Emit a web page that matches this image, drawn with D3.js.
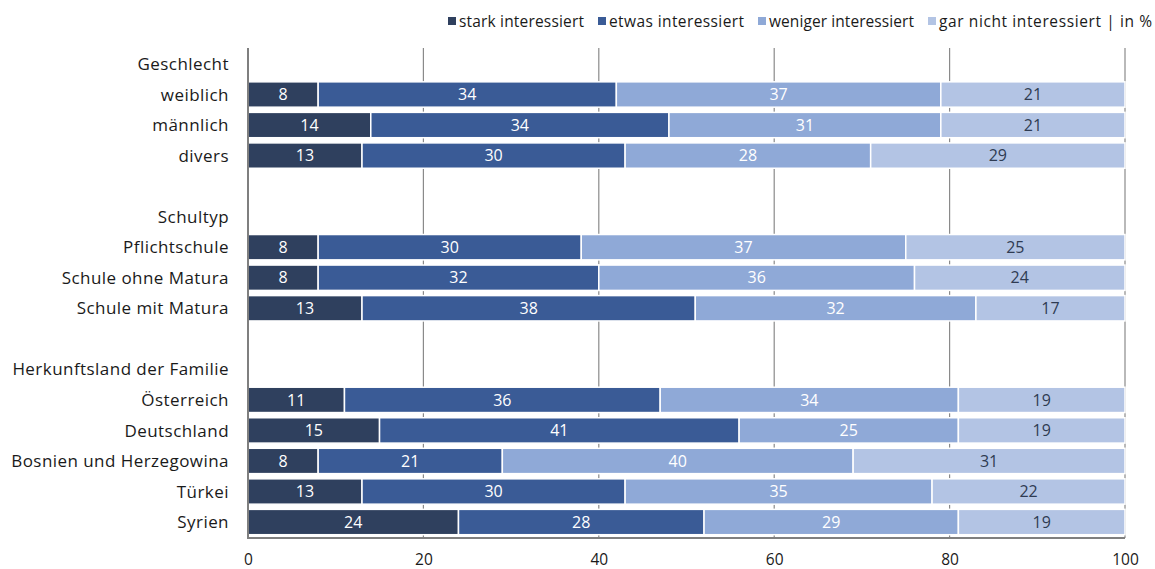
<!DOCTYPE html>
<html><head><meta charset="utf-8">
<script src="https://cdn.jsdelivr.net/npm/d3@7"></script>
<style>body{margin:0;background:#fff}svg{display:block}text{font-family:"Open Sans",Lato,sans-serif}</style>
</head><body><svg id="c" width="1155" height="569"></svg>
<script>
const rows = ["Geschlecht","weiblich","männlich","divers","","Schultyp","Pflichtschule","Schule ohne Matura","Schule mit Matura","","Herkunftsland der Familie","Österreich","Deutschland","Bosnien und Herzegowina","Türkei","Syrien"];
const series = ["stark interessiert","etwas interessiert","weniger interessiert","gar nicht interessiert"];
const stark =   {weiblich:8, "männlich":14, divers:13, Pflichtschule:8, "Schule ohne Matura":8, "Schule mit Matura":13, "Österreich":11, Deutschland:15, "Bosnien und Herzegowina":8, "Türkei":13, Syrien:24};
const etwas =   {weiblich:34, "männlich":34, divers:30, Pflichtschule:30, "Schule ohne Matura":32, "Schule mit Matura":38, "Österreich":36, Deutschland:41, "Bosnien und Herzegowina":21, "Türkei":30, Syrien:28};
const weniger = {weiblich:37, "männlich":31, divers:28, Pflichtschule:37, "Schule ohne Matura":36, "Schule mit Matura":32, "Österreich":34, Deutschland:25, "Bosnien und Herzegowina":40, "Türkei":35, Syrien:29};
const garnicht ={weiblich:21, "männlich":21, divers:29, Pflichtschule:25, "Schule ohne Matura":24, "Schule mit Matura":17, "Österreich":19, Deutschland:19, "Bosnien und Herzegowina":31, "Türkei":22, Syrien:19};
const xTicks = [0,20,40,60,80,100];
const colors = ["#2f405e","#3a5b96","#8fa9d7","#b3c4e4"];
const textColors = ["#ffffff","#ffffff","#ffffff","#2f3b52"];

const svg = d3.select("#c");
const keys = rows.map((r,i)=> r===""? "__gap"+i : r);
const x = d3.scaleLinear().domain([0,100]).range([248,1125]);
const y = d3.scaleBand().domain(keys).range([48.7,537.3]).paddingInner(0.17).paddingOuter(0.085);

svg.append("g").selectAll("line").data(xTicks.filter(d=>d>0)).join("line")
  .attr("x1",d=>x(d)).attr("x2",d=>x(d)).attr("y1",48).attr("y2",538)
  .attr("stroke","#8a8a8a").attr("stroke-width",1.2);

const dataRows = keys.filter(k=>stark[k]!==undefined).map(k=>({k, vals:[stark[k],etwas[k],weniger[k],garnicht[k]]}));
const g = svg.append("g");
dataRows.forEach(r=>{
  let acc=0;
  r.vals.forEach((v,i)=>{
    const x0=x(acc), x1=x(acc+v);
    g.append("rect").attr("x",x0).attr("y",y(r.k)).attr("width",x1-x0).attr("height",y.bandwidth())
      .attr("fill",colors[i]).attr("stroke","#fff").attr("stroke-width",1.5);
    g.append("text").attr("x",(x0+x1)/2).attr("y",y(r.k)+y.bandwidth()/2).attr("dy","0.36em")
      .attr("text-anchor","middle").attr("fill",textColors[i]).attr("font-size",16).text(v);
    acc+=v;
  });
});

svg.append("line").attr("x1",x(0)).attr("x2",x(0)).attr("y1",48).attr("y2",539).attr("stroke","#7f7f7f").attr("stroke-width",2);
svg.append("line").attr("x1",x(0)).attr("x2",x(100)).attr("y1",538).attr("y2",538).attr("stroke","#7f7f7f").attr("stroke-width",2);

svg.append("g").selectAll("text").data(keys.filter(k=>!k.startsWith("__gap"))).join("text")
  .attr("x",229).attr("y",d=>y(d)+y.bandwidth()/2).attr("dy","0.36em").attr("text-anchor","end")
  .attr("fill","#1a1a1a").attr("font-size",17).attr("letter-spacing",0.45).text(d=>d);

const xAxis = d3.axisBottom(x).tickValues(xTicks).tickSize(0).tickPadding(0);
const ax = svg.append("g").attr("transform","translate(0,554)").call(xAxis);
ax.select(".domain").remove();
ax.selectAll("text").attr("font-size",15.5).attr("fill","#1a1a1a").attr("dy","0.71em").attr("y",0);

const legendX = [448, 598, 758, 928];
const lg = svg.append("g");
series.forEach((s,i)=>{
  lg.append("rect").attr("x",legendX[i]).attr("y",17).attr("width",8).attr("height",8).attr("fill",colors[i]);
  const t = lg.append("text").attr("x",legendX[i]+11).attr("y",21).attr("dy","0.36em").attr("font-size",15.5).attr("fill","#1a1a1a")
    .text(i===3 ? s+" | in %" : s);
  const target = (i<3 ? legendX[i+1]-14 : 1152) - (legendX[i]+11);
  t.attr("textLength", target).attr("lengthAdjust","spacing");
});
</script></body></html>
